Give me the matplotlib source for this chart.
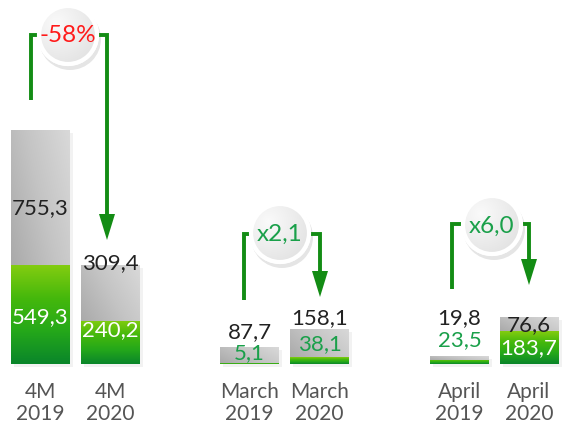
import numpy as np
import matplotlib
matplotlib.use("Agg")
import matplotlib.pyplot as plt
from matplotlib import patches
from matplotlib.colors import LinearSegmentedColormap

plt.rcParams['font.family'] = ['Lato', 'DejaVu Sans']

# data
categories = ["4M\n2019", "4M\n2020", "March\n2019", "March\n2020", "April\n2019", "April\n2020"]
green_vals = [549.3, 240.2, 5.1, 38.1, 23.5, 183.7]
grey_vals = [755.3, 309.4, 87.7, 158.1, 19.8, 76.6]
change_labels = ["-58%", "x2,1", "x6,0"]
change_colors = ["#ff1a1a", "#1aa04a", "#1aa04a"]

# layout (pixels, figure is 562x426)
W, H = 562, 426
xpos = [40.5, 110, 249.5, 319.5, 459.5, 529]
bar_w = 59
base_px = 364
px_per_unit = 234 / (green_vals[0] + grey_vals[0])

# label positions (px from top): grey label, green label, colour style
grey_lbl_y = [208, 263, 332, 318, 318, 325]
green_lbl_y = [317, 330, 353, 344, 340, 348]
green_lbl_col = ["white", "white", "#1aa04a", "#1aa04a", "#1aa04a", "white"]

# bracket arrows: left x, right x, level y, left bottom, tip y, circle centre
brackets = [
    (31, 107, 35, 100, 240, (68, 35)),
    (244, 320, 234, 300, 297, (280, 233)),
    (452, 529, 224, 289, 285, (492, 225)),
]
circle_r = 29
line_col = "#138c14"

fig = plt.figure(figsize=(W / 100, H / 100), dpi=100)
ax = fig.add_axes([0, 0, 1, 1])
ax.axis("off")

grey_cmap = LinearSegmentedColormap.from_list("g", ["#aaaaaa", "#c4c4c4", "#d9d9d9"])
green_cmap = LinearSegmentedColormap.from_list("gr", ["#0a862a", "#25a81a", "#45b80c", "#82cc10"])

# shadows
for x, g, s in zip(xpos, green_vals, grey_vals):
    ax.add_patch(patches.Rectangle((x - bar_w / 2 + 3, -3 / px_per_unit), bar_w, g + s,
                                   color="#000000", alpha=0.05, lw=0, zorder=1))

gb = ax.bar(xpos, green_vals, width=bar_w, color="#3cb40c", zorder=2)
sb = ax.bar(xpos, grey_vals, width=bar_w, bottom=green_vals, color="#c4c4c4", zorder=2)

# gradients clipped to the bars
yy, xx = np.mgrid[0:1:64j, 0:1:64j]
grey_grad = 0.65 * xx + 0.35 * (1 - yy)
green_grad = np.linspace(0, 1, 64)[:, None] * np.ones((1, 8))
for p in sb.patches:
    x0, y0 = p.get_x(), p.get_y()
    im = ax.imshow(grey_grad, cmap=grey_cmap, extent=(x0, x0 + p.get_width(), y0, y0 + p.get_height()),
                   origin="upper", aspect="auto", zorder=3)
    im.set_clip_path(p)
for p in gb.patches:
    x0, y0 = p.get_x(), p.get_y()
    im = ax.imshow(green_grad, cmap=green_cmap, extent=(x0, x0 + p.get_width(), y0, y0 + p.get_height()),
                   origin="lower", aspect="auto", zorder=3)
    im.set_clip_path(p)
ax.set_xlim(0, W)
ax.set_ylim(-(H - base_px) / px_per_unit, base_px / px_per_unit)

# overlay in pixel coordinates for texts and arrows
ov = fig.add_axes([0, 0, 1, 1])
ov.axis("off")
ov.patch.set_alpha(0)

for i, x in enumerate(xpos):
    ov.text(x, grey_lbl_y[i], f"{grey_vals[i]:.1f}".replace(".", ","), ha="center", va="center",
            fontsize=16, color="#222222")
    ov.text(x, green_lbl_y[i], f"{green_vals[i]:.1f}".replace(".", ","), ha="center", va="center",
            fontsize=16, color=green_lbl_col[i])
    ov.text(x, 403, categories[i], ha="center", va="center", fontsize=15, color="#555555",
            linespacing=1.15)

for (lx, rx, ly, lb, tip, c), lab, col in zip(brackets, change_labels, change_colors):
    ov.plot([lx, lx, c[0]], [lb, ly, ly], color=line_col, lw=2.8, solid_capstyle="butt",
            solid_joinstyle="miter")
    ov.plot([c[0], rx, rx], [ly, ly, tip - 24], color=line_col, lw=2.8, solid_capstyle="butt",
            solid_joinstyle="miter")
    ov.add_patch(patches.Polygon([(rx - 8, tip - 26), (rx + 8, tip - 26), (rx, tip)],
                                 closed=True, color=line_col, lw=0))
    # circle with shadow
    ov.add_patch(patches.Circle((c[0] + 2, c[1] + 4), circle_r + 2, color="#000000", alpha=0.10, lw=0))
    circ = patches.Circle(c, circle_r, facecolor="#ececec", edgecolor="white", lw=3)
    ov.add_patch(circ)
    gy, gx = np.mgrid[-1:1:64j, -1:1:64j]
    rad = np.clip(np.sqrt((gx + 0.4) ** 2 + (gy + 0.4) ** 2) / 1.9, 0, 1)
    im = ov.imshow(rad, cmap=LinearSegmentedColormap.from_list("c", ["#fafafa", "#dedede"]),
                   extent=(c[0] - circle_r, c[0] + circle_r, c[1] + circle_r, c[1] - circle_r),
                   origin="upper", zorder=2.5)
    im.set_clip_path(circ)
    ov.add_patch(patches.Circle(c, circle_r, facecolor="none", edgecolor="white", lw=3, zorder=2.6))
    ov.text(c[0], c[1] + 1, lab, ha="center", va="center", fontsize=17.5, color=col, zorder=3)
ov.set_xlim(0, W)
ov.set_ylim(H, 0)

fig.savefig("out.png", dpi=100)
